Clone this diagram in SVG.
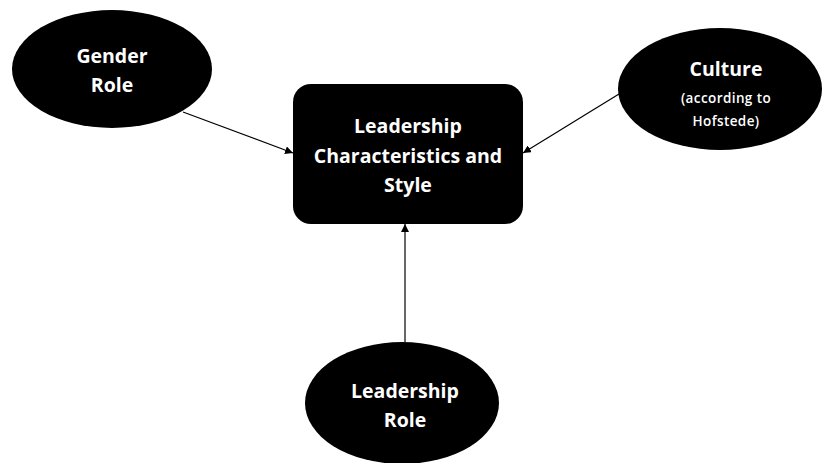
<svg xmlns="http://www.w3.org/2000/svg" width="822" height="463" viewBox="0 0 822 463">
  <style>
    .shape { fill: #000; }
    .label { fill: #fff; font-family: "Open Sans", "Liberation Sans", sans-serif; font-weight: bold; text-anchor: middle; }
    .big { font-size: 19.5px; }
    .small { font-size: 13.5px; font-weight: 600; letter-spacing: 0.4px; }
    .edge { stroke: #000; stroke-width: 1.2; fill: none; marker-end: url(#arrow); }
  </style>
  <defs>
    <marker id="arrow" viewBox="0 0 10 10" refX="10" refY="5" markerWidth="8" markerHeight="8" markerUnits="userSpaceOnUse" orient="auto">
      <path d="M0,0 L10,5 L0,10 z" fill="#000"/>
    </marker>
  </defs>

  <g id="connectors">
    <line class="edge" x1="183" y1="112" x2="293" y2="153"/>
    <line class="edge" x1="619" y1="94" x2="523" y2="153"/>
    <line class="edge" x1="405" y1="342" x2="405" y2="224"/>
  </g>

  <g id="gender-role">
    <ellipse class="shape" cx="112" cy="69" rx="100" ry="59"/>
    <text class="label big" x="112" y="63">Gender</text>
    <text class="label big" x="112" y="92">Role</text>
  </g>

  <g id="culture">
    <ellipse class="shape" cx="720" cy="89" rx="102" ry="61"/>
    <text class="label big" x="726" y="76">Culture</text>
    <text class="label small" x="726" y="103">(according to</text>
    <text class="label small" x="726" y="126">Hofstede)</text>
  </g>

  <g id="leadership-characteristics">
    <rect class="shape" x="293" y="84" width="230" height="140" rx="18" ry="18"/>
    <text class="label big" x="408" y="133">Leadership</text>
    <text class="label big" x="408" y="163">Characteristics and</text>
    <text class="label big" x="408" y="192">Style</text>
  </g>

  <g id="leadership-role">
    <ellipse class="shape" cx="402" cy="403" rx="97" ry="61"/>
    <text class="label big" x="405" y="398">Leadership</text>
    <text class="label big" x="405" y="427">Role</text>
  </g>
</svg>
